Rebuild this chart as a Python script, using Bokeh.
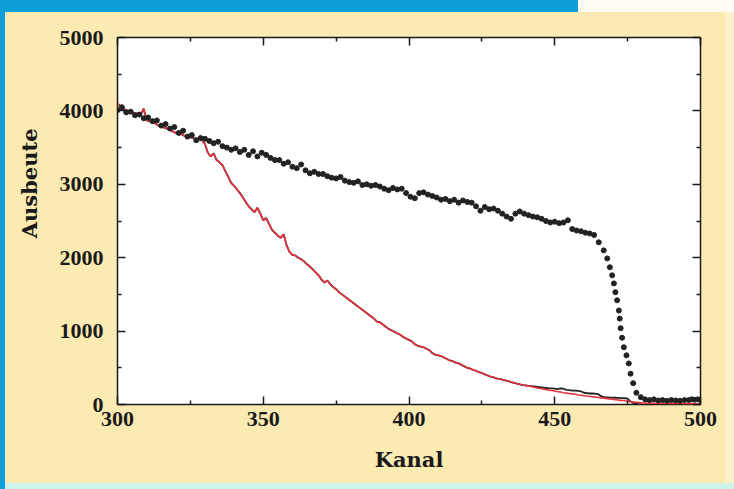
from bokeh.plotting import figure
from bokeh.models import FixedTicker, LinearAxis, Range1d, Title
from bokeh.embed import file_html
from bokeh.resources import INLINE

# ---------------- data ----------------
# measured spectrum (black dots): flat part, one dot every 1.5 channels
meas_start, meas_step = 300.0, 1.5
meas_y_a = [
    4010, 4050, 3980, 3990, 3940, 3950, 3900, 3910, 3860, 3870,
    3800, 3820, 3760, 3780, 3700, 3730, 3650, 3670, 3600, 3630,
    3620, 3590, 3560, 3580, 3520, 3500, 3470, 3490, 3440, 3470,
    3400, 3450, 3380, 3430, 3400, 3360, 3330, 3330, 3280, 3300,
    3240, 3220, 3270, 3190, 3150, 3170, 3140, 3140, 3110, 3090,
    3080, 3100, 3050, 3030, 3020, 3040, 2990, 3000, 2980, 2990,
    2970, 2940, 2920, 2950, 2930, 2940, 2880, 2830, 2810, 2880,
    2890, 2860, 2840, 2820, 2790, 2800, 2770, 2790, 2750, 2780,
    2760, 2750, 2700, 2640, 2690, 2660, 2670, 2640, 2600, 2560,
    2530, 2600, 2630, 2600, 2580, 2560, 2550, 2530, 2500, 2480,
    2490, 2470, 2480, 2510, 2390, 2370, 2360, 2340, 2330, 2310,
]
meas_ch_a = [meas_start + meas_step * k for k in range(len(meas_y_a))]
# steep edge
meas_ch_b = [465.1, 466.8, 468.0, 468.9, 469.7, 470.3, 470.8, 471.4, 472.0,
             472.3, 472.6, 473.1, 473.7, 474.6, 475.4, 476.0, 476.9, 478.0]
meas_y_b = [2210, 2100, 1990, 1870, 1760, 1650, 1530, 1420, 1280,
            1170, 1040, 910, 780, 670, 560, 420, 290, 160]
# tail
meas_ch_c = [479.5, 481, 482.5, 484, 485.5, 487, 488.5, 490, 491.5,
             493, 494.5, 496, 497, 498, 499, 500]
meas_y_c = [100, 70, 60, 70, 55, 60, 50, 60, 55, 50, 60, 60, 70, 65, 70, 60]

# simulation (red line), one value per channel 300..500
sim_ch = list(range(300, 501))
sim_red = [
    4100, 4060, 4030, 4010, 3990, 3980, 3970, 3960, 3950, 4030,
    3870, 3860, 3840, 3830, 3800, 3790, 3770, 3760, 3740, 3720,
    3700, 3690, 3680, 3660, 3650, 3640, 3630, 3620, 3620, 3600,
    3550, 3430, 3380, 3420, 3330, 3300, 3260, 3180, 3100, 3020,
    2980, 2930, 2880, 2820, 2760, 2700, 2660, 2620, 2680, 2600,
    2510, 2540, 2460, 2380, 2340, 2300, 2270, 2320, 2170, 2080,
    2040, 2030, 2000, 1980, 1950, 1910, 1880, 1840, 1800, 1760,
    1700, 1660, 1690, 1640, 1600, 1570, 1530, 1500, 1470, 1440,
    1410, 1380, 1350, 1320, 1290, 1260, 1230, 1200, 1170, 1130,
    1120, 1090, 1060, 1030, 1010, 990, 970, 950, 920, 900,
    880, 860, 820, 800, 790, 780, 760, 740, 700, 680,
    670, 660, 640, 620, 600, 590, 570, 560, 540, 520,
    500, 490, 470, 460, 440, 430, 410, 395, 380, 370,
    355, 350, 340, 330, 320, 305, 295, 285, 275, 265,
    260, 250, 245, 235, 225, 220, 210, 205, 195, 190,
    185, 175, 170, 160, 155, 150, 145, 140, 130, 125,
    120, 115, 110, 105, 100, 95, 90, 85, 80, 75,
    70, 65, 60, 55, 50, 45, 40, 35, 30, 25,
    22, 20, 18, 18, 16, 15, 15, 14, 13, 12,
    12, 11, 10, 10, 10, 9, 9, 8, 8, 8, 8,
]
# second (black) simulation line, visible where it departs from the red one
sim_black_ch = list(range(440, 481))
sim_black_tail = [
    260, 255, 250, 245, 240, 235, 230, 225, 220, 220,
    215, 210, 220, 215, 200, 195, 190, 190, 185, 180,
    160, 155, 150, 150, 145, 140, 110, 100, 98, 95,
    95, 92, 90, 88, 85, 80, 40, 20, 10, 5, 3,
]

x_ticks = [300, 350, 400, 450, 500]
x_minor = [325, 375, 425, 475]
y_ticks = [0, 1000, 2000, 3000, 4000, 5000]
y_minor = [500, 1500, 2500, 3500, 4500]
x_title = "Kanal"
y_title = "Ausbeute"

# ---------------- figure ----------------
CREAM = "#FBEAB2"
BLUE = "#0E9FD8"
INK = "#1a1a1a"

p = figure(width=734, height=489, x_range=Range1d(300, 500), y_range=Range1d(0, 5000),
           output_backend="svg", toolbar_location=None,
           min_border_left=117, min_border_right=34, min_border_top=37, min_border_bottom=85)
p.border_fill_alpha = 0
p.background_fill_color = "white"
p.outline_line_color = INK
p.outline_line_width = 1.5
p.grid.visible = False
p.styles = {
    "background": (
        f"linear-gradient({BLUE},{BLUE}) 0 0 / 578px 12px no-repeat, "
        "linear-gradient(#FFFBF0,#FFFBF0) 578px 0 / 156px 12px no-repeat, "
        f"linear-gradient({BLUE},{BLUE}) 0 0 / 5px 100% no-repeat, "
        "linear-gradient(#CDF3EA,#CDF3EA) 0 100% / 100% 6px no-repeat, "
        "linear-gradient(#FDF1CC,#FDF1CC) 100% 0 / 9px 100% no-repeat, "
        f"{CREAM}"
    )
}

# black simulation line beneath the red one
n_head = sim_black_ch[0] - sim_ch[0]
blk_x = sim_ch[:n_head] + sim_black_ch
blk_y = sim_red[:n_head] + sim_black_tail
p.line(blk_x, blk_y, line_color="#222222", line_width=1.8)
p.line(sim_ch, sim_red, line_color="#E8333C", line_width=1.6)

mx = meas_ch_a + meas_ch_b + meas_ch_c
my = meas_y_a + meas_y_b + meas_y_c
p.scatter(mx, my, size=5, marker="circle", fill_color="#222222", line_color="#222222")

TICK_FONT = "Liberation Serif"
TITLE_FONT = "DejaVu Serif"


def style_axis(ax, ticks, minor, labels=True):
    ax.ticker = FixedTicker(ticks=ticks, minor_ticks=minor)
    ax.axis_line_color = None
    ax.major_tick_in = 8
    ax.major_tick_out = 0
    ax.minor_tick_in = 4
    ax.minor_tick_out = 0
    ax.major_tick_line_color = INK
    ax.minor_tick_line_color = INK
    ax.major_tick_line_width = 1.5
    ax.minor_tick_line_width = 1.5
    if labels:
        ax.major_label_text_font = TICK_FONT
        ax.major_label_text_font_style = "bold"
        ax.major_label_text_font_size = "22px"
        ax.major_label_text_color = INK
    else:
        ax.major_label_text_font_size = "0px"
        ax.major_label_text_alpha = 0


xa = p.xaxis[0]
style_axis(xa, x_ticks, x_minor)
xa.major_label_standoff = 7

ya = p.yaxis[0]
style_axis(ya, y_ticks, y_minor)
ya.major_label_standoff = 14

top = LinearAxis()
style_axis(top, x_ticks, x_minor, labels=False)
p.add_layout(top, "above")
right = LinearAxis()
style_axis(right, y_ticks, y_minor, labels=False)
p.add_layout(right, "right")

# axis titles as panel titles (allow offsets)
p.add_layout(Title(text=x_title, align="center", offset=2, standoff=33,
                   text_font=TITLE_FONT, text_font_style="bold",
                   text_font_size="21px", text_color=INK), "below")
p.add_layout(Title(text=y_title, align="right", offset=91, standoff=29,
                   text_font=TITLE_FONT, text_font_style="bold",
                   text_font_size="21px", text_color=INK), "left")

open("out.html", "w").write(file_html(p, INLINE))
